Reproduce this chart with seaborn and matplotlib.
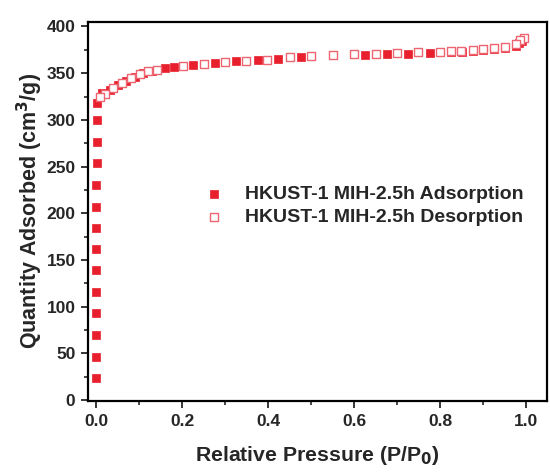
import numpy as np
import pandas as pd
import matplotlib
matplotlib.use("Agg")
import matplotlib.pyplot as plt
import seaborn as sns
from matplotlib.ticker import MultipleLocator

# isoterm verileri
ads_p = [0.0002, 0.0002, 0.0003, 0.0003, 0.0004, 0.0004, 0.0005, 0.0005, 0.0006, 0.0007,
         0.0008, 0.0009, 0.0010, 0.003, 0.013, 0.033, 0.050, 0.070, 0.090, 0.110, 0.130,
         0.161, 0.181, 0.226, 0.276, 0.325, 0.376, 0.423, 0.476, 0.626, 0.676, 0.726,
         0.776, 0.826, 0.851, 0.876, 0.901, 0.926, 0.951, 0.976, 0.985, 0.990]
ads_q = [23.1, 46.3, 69.6, 92.9, 115.7, 138.9, 161.8, 184.6, 207.0, 230.4,
         253.5, 276.5, 299.5, 318.0, 328.6, 332.0, 337.0, 342.0, 346.0, 350.0, 352.5,
         355.5, 356.5, 359.0, 361.0, 363.0, 364.4, 365.3, 366.9, 369.0, 370.0, 370.4,
         371.5, 372.3, 373.0, 373.6, 374.4, 375.4, 376.8, 379.0, 382.0, 384.0]

des_p = [0.996, 0.986, 0.977, 0.951, 0.926, 0.901, 0.876, 0.850, 0.825, 0.800,
         0.749, 0.699, 0.650, 0.600, 0.550, 0.499, 0.450, 0.398, 0.349, 0.299,
         0.251, 0.202, 0.141, 0.121, 0.101, 0.081, 0.060, 0.040, 0.021, 0.009]
des_q = [387.5, 385.0, 381.6, 378.0, 376.6, 375.5, 374.7, 374.0, 373.4, 373.2,
         372.3, 371.5, 370.8, 370.0, 369.8, 368.7, 366.9, 364.6, 363.3, 362.0,
         360.0, 358.0, 353.7, 352.0, 348.7, 344.4, 340.0, 333.7, 328.0, 325.0]

df_ads = pd.DataFrame({"P": ads_p, "Q": ads_q})
df_des = pd.DataFrame({"P": des_p, "Q": des_q})

sns.set_style("white")
plt.rcParams['font.family'] = ['Liberation Sans', 'DejaVu Sans']
plt.rcParams['font.weight'] = 'bold'
plt.rcParams['mathtext.default'] = 'bf'

fig = plt.figure(figsize=(5.5, 4.74), dpi=100)
ax = fig.add_axes([0.16, 0.154, 0.8345, 0.80])

sns.scatterplot(data=df_ads, x="P", y="Q", marker='s', s=30, color='#E8202E',
                edgecolor='#E8202E', linewidth=0.5, label='HKUST-1 MIH-2.5h Adsorption',
                ax=ax, zorder=3)
sns.scatterplot(data=df_des, x="P", y="Q", marker='s', s=30, color='white',
                edgecolor='#EE6470', linewidth=1.0, label='HKUST-1 MIH-2.5h Desorption',
                ax=ax, zorder=4)

ax.set_xlim(-0.019, 1.049)
ax.set_ylim(-1, 405)
ax.xaxis.set_major_locator(MultipleLocator(0.2))
ax.xaxis.set_minor_locator(MultipleLocator(0.1))
ax.yaxis.set_major_locator(MultipleLocator(50))
ax.yaxis.set_minor_locator(MultipleLocator(25))
ax.set_xticks([0, 0.2, 0.4, 0.6, 0.8, 1.0])
ax.set_xticklabels(['0.0', '0.2', '0.4', '0.6', '0.8', '1.0'])

ax.tick_params(which='major', direction='out', length=5, width=1.3, labelsize=12.5,
               pad=4, bottom=True, left=True, top=False, right=False)
ax.tick_params(which='minor', direction='out', length=3, width=1.2,
               bottom=True, left=True, top=False, right=False)
for lab in ax.get_xticklabels() + ax.get_yticklabels():
    lab.set_fontweight('bold')

for sp in ax.spines.values():
    sp.set_linewidth(1.6)
    sp.set_color('black')

ax.set_xlabel("Relative Pressure (P/P$_0$)", fontsize=15.3, fontweight='bold', labelpad=11)
ax.set_ylabel("Quantity Adsorbed (cm$^3$/g)", fontsize=15.5, fontweight='bold', labelpad=1)

leg = ax.legend(loc='center left', bbox_to_anchor=(0.212, 0.515), frameon=False,
                fontsize=14, handletextpad=0.55, borderpad=0, labelspacing=0.3,
                markerscale=1.0)
for t in leg.get_texts():
    t.set_fontweight('bold')

plt.savefig("out.png", dpi=100)
